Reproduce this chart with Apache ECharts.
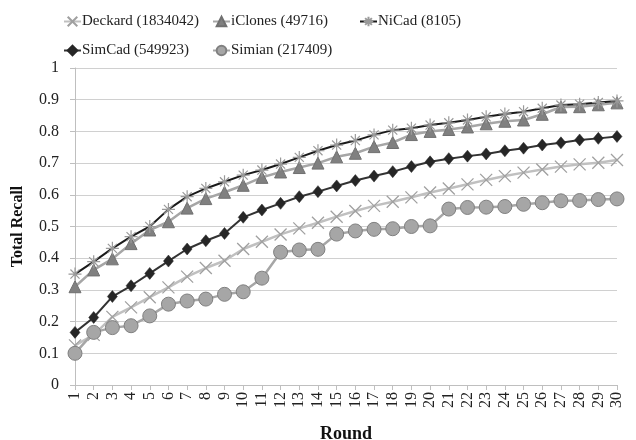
<!DOCTYPE html>
<html>
<head>
<meta charset="utf-8">
<script src="https://cdn.jsdelivr.net/npm/echarts@6/dist/echarts.min.js"></script>
<style>html,body{margin:0;padding:0;background:#fff;}#c{width:636px;height:440px;}</style>
</head>
<body>
<div id="c"></div>
<script>
var rounds = ['1','2','3','4','5','6','7','8','9','10','11','12','13','14','15','16','17','18','19','20','21','22','23','24','25','26','27','28','29','30'];
var yTicks = [0,0.1,0.2,0.3,0.4,0.5,0.6,0.7,0.8,0.9,1];
var seriesNames = ['Deckard (1834042)','iClones (49716)','NiCad (8105)','SimCad (549923)','Simian (217409)'];
var deckard = [0.125,0.158,0.215,0.245,0.277,0.308,0.342,0.369,0.392,0.429,0.452,0.475,0.494,0.512,0.531,0.549,0.565,0.578,0.592,0.607,0.62,0.633,0.647,0.659,0.67,0.68,0.689,0.696,0.701,0.71];
var iclones = [0.31,0.363,0.398,0.446,0.489,0.515,0.558,0.588,0.608,0.63,0.655,0.672,0.686,0.7,0.72,0.731,0.752,0.765,0.79,0.8,0.806,0.814,0.824,0.832,0.836,0.854,0.877,0.878,0.884,0.89];
var nicad = [0.35,0.389,0.431,0.468,0.50,0.554,0.594,0.62,0.641,0.662,0.678,0.697,0.718,0.739,0.757,0.771,0.789,0.804,0.81,0.82,0.827,0.836,0.846,0.855,0.862,0.873,0.883,0.886,0.891,0.896];
var simcad = [0.166,0.213,0.279,0.313,0.352,0.391,0.429,0.455,0.478,0.529,0.552,0.573,0.594,0.61,0.628,0.645,0.659,0.673,0.689,0.704,0.714,0.722,0.729,0.739,0.747,0.757,0.764,0.773,0.778,0.784];
var simian = [0.10,0.166,0.181,0.187,0.218,0.255,0.265,0.271,0.286,0.294,0.337,0.419,0.426,0.428,0.476,0.486,0.491,0.493,0.50,0.502,0.555,0.56,0.561,0.563,0.57,0.575,0.581,0.582,0.585,0.587];

var FONT = '"Liberation Serif","Times New Roman",serif';
var chart = echarts.init(document.getElementById('c'), null, {renderer:'canvas'});

function leg(name, left, top){
  return {data:[name], left:left, top:top, itemWidth:17, itemHeight:12, itemGap:0,
    textStyle:{fontFamily:FONT, fontSize:15, color:'#222', padding:[0,0,0,-4]}};
}

var xPath = 'path://M0,0L10,10M0,10L10,0';
var starPath = 'path://M0,5L10,5M5,0L5,10M1.5,1.5L8.5,8.5M8.5,1.5L1.5,8.5';

chart.setOption({
  animation:false,
  backgroundColor:'#fff',
  legend:[
    leg(seriesNames[0], 58, 9),
    leg(seriesNames[1], 207, 9),
    leg(seriesNames[2], 354, 9),
    leg(seriesNames[3], 58, 38),
    leg(seriesNames[4], 207, 38)
  ],
  grid:{left:75, right:19, top:68, bottom:55, containLabel:false, outerBoundsMode:'none'},
  xAxis:{
    type:'category', data:rounds, boundaryGap:false,
    name:'Round', nameLocation:'middle', nameGap:40,
    nameTextStyle:{fontFamily:FONT, fontSize:18, fontWeight:'bold', color:'#111'},
    axisLine:{lineStyle:{color:'#bfbfbf', width:1}},
    axisTick:{show:true, alignWithLabel:true, length:5, lineStyle:{color:'#bfbfbf'}},
    axisLabel:{rotate:90, interval:0, fontFamily:FONT, fontSize:16, color:'#222', margin:7},
    splitLine:{show:false}
  },
  yAxis:{
    type:'value', min:0, max:1, interval:0.1,
    name:'Total Recall', nameLocation:'middle', nameGap:49,
    nameTextStyle:{fontFamily:FONT, fontSize:16, fontWeight:'bold', color:'#111'},
    axisLine:{show:true, lineStyle:{color:'#bfbfbf'}},
    axisTick:{show:true, length:5, lineStyle:{color:'#bfbfbf'}},
    axisLabel:{fontFamily:FONT, fontSize:16, color:'#222', margin:16,
      formatter:function(v){ var t = yTicks.filter(function(k){return Math.abs(k-v)<1e-9;}); return t.length? String(t[0]) : ''; }},
    splitLine:{show:true, lineStyle:{color:'#d0d0d0', width:1}}
  },
  series:[
    {name:seriesNames[0], type:'line', data:deckard, symbol:xPath, symbolSize:12,
      lineStyle:{color:'#c0c0c0', width:2.5},
      itemStyle:{color:'rgba(0,0,0,0)', borderColor:'#a0a0a0', borderWidth:1.3}, z:2},
    {name:seriesNames[1], type:'line', data:iclones, symbol:'triangle', symbolSize:12,
      lineStyle:{color:'#a6a6a6', width:2.5},
      itemStyle:{color:'#808080', borderColor:'#707070', borderWidth:1}, z:3},
    {name:seriesNames[2], type:'line', data:nicad, symbol:starPath, symbolSize:13,
      lineStyle:{color:'#1a1a1a', width:2},
      itemStyle:{color:'rgba(0,0,0,0)', borderColor:'#9a9a9a', borderWidth:1.2}, z:4},
    {name:seriesNames[3], type:'line', data:simcad, symbol:'diamond', symbolSize:[10,12],
      lineStyle:{color:'#333333', width:2},
      itemStyle:{color:'#262626', borderColor:'#262626', borderWidth:0.5}, z:5},
    {name:seriesNames[4], type:'line', data:simian, symbol:'circle', symbolSize:14,
      lineStyle:{color:'#a6a6a6', width:2.5},
      itemStyle:{color:'#a6a6a6', borderColor:'#808080', borderWidth:1}, z:6}
  ]
});
</script>
</body>
</html>
